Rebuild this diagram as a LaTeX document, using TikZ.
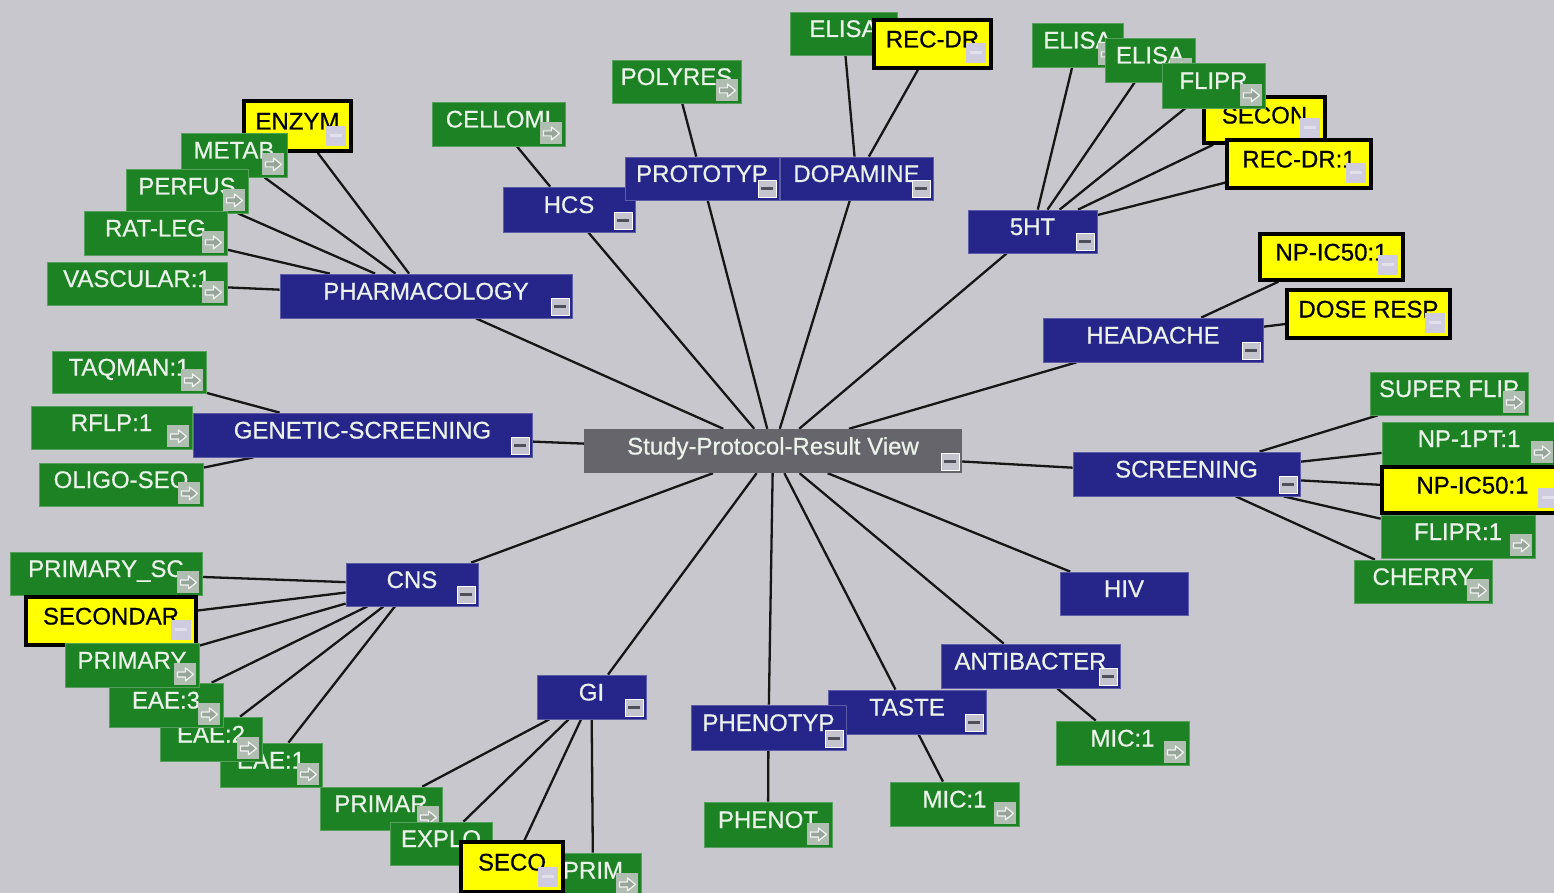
\documentclass[tikz,border=0pt]{standalone}
\usepackage{fontspec}
\setmainfont{Liberation Sans}
\newfontfamily\labelfont{Liberation Sans}[FakeBold=0.6]
\usetikzlibrary{calc}
\pgfdeclarelayer{bg}
\pgfdeclarelayer{edges}
\pgfsetlayers{bg,edges,main}

\definecolor{canvas}{RGB}{200,199,205}
\definecolor{navyfill}{RGB}{38,38,138}
\definecolor{leaffill}{RGB}{28,130,36}
\definecolor{markfill}{RGB}{255,255,0}
\definecolor{hubfill}{RGB}{102,101,107}
\definecolor{lighttext}{RGB}{234,242,234}
\definecolor{linkcol}{RGB}{22,22,22}
\definecolor{iconbase}{RGB}{176,190,178}
\definecolor{iconmid}{RGB}{150,165,152}
\definecolor{minusbase}{RGB}{196,196,206}
\definecolor{minusbar}{RGB}{80,80,92}
\definecolor{markicon}{RGB}{206,204,222}

\tikzset{
  box/.style={rectangle, inner sep=0pt, text height=17pt, text depth=10pt,
    font=\labelfont\fontsize{24}{28}\selectfont},
  bluebox/.style={box, fill=navyfill, draw=navyfill!75!white, line width=0.8pt, text=lighttext},
  greenbox/.style={box, fill=leaffill, draw=leaffill!75!white, line width=0.8pt, text=lighttext},
  yellowbox/.style={box, fill=markfill, draw=black, line width=3.5pt, text=black},
  hubbox/.style={box, fill=hubfill, text=lighttext},
  link/.style={draw=linkcol, line width=2.3pt},
  arrowicon/.pic={
    \fill[iconbase] (-25,-24) rectangle (-3,-2);
    \draw[white!90!gray, line width=1.2pt, fill=iconmid, line join=round]
      (-22,-15.5) -- (-14,-15.5) -- (-14,-19.5) -- (-6,-13) -- (-14,-6.5)
      -- (-14,-10.5) -- (-22,-10.5) -- cycle;
  },
  minusicon/.pic={
    \fill[minusbase] (-21,-20) rectangle (-3,-3);
    \draw[white, line width=1pt] (-21,-20) rectangle (-3,-3);
    \fill[minusbar] (-18,-13) rectangle (-6,-10);
  },
  flagicon/.pic={
    \fill[markicon] (-27,-27) rectangle (-7,-7);
    \fill[markicon!60!white] (-23,-18.5) rectangle (-11,-15.5);
  }
}

% box by its pixel corners: style, name, x1, y1, x2, y2, text
\newcommand\bx[7]{%
  \node[#1, minimum width={#5-#3}, minimum height={#6-#4}] (#2)
    at ({(#3+#5)/2},{(#4+#6)/2}) {#7};}
\newcommand\leafbox[6]{\bx{greenbox}{#1}{#2}{#3}{#4}{#5}{#6}\pic at (#1.south east) {arrowicon};}
\newcommand\groupbox[6]{\bx{bluebox}{#1}{#2}{#3}{#4}{#5}{#6}\pic at (#1.south east) {minusicon};}
\newcommand\flagbox[6]{\bx{yellowbox}{#1}{#2}{#3}{#4}{#5}{#6}\pic at (#1.south east) {flagicon};}

\begin{document}
\begin{tikzpicture}[x=1pt,y=-1pt]
\useasboundingbox (0,0) rectangle (1554,893);
\begin{pgfonlayer}{bg}
  \fill[canvas] (0,0) rectangle (1554,893);
\end{pgfonlayer}

% root
\bx{hubbox}{hub}{584}{429}{962}{473}{Study-Protocol-Result View}
\pic at (hub.south east) {minusicon};

% pharmacology
\flagbox{enzym}{244}{101}{351}{151}{ENZYM}
\leafbox{metab}{181}{133}{287}{177}{METAB}
\leafbox{perfus}{126}{169}{248}{213}{PERFUS}
\leafbox{ratleg}{84}{211}{227}{255}{RAT-LEG}
\leafbox{vasc}{47}{262}{227}{305}{VASCULAR:1}
\groupbox{pharm}{280}{274}{572}{318}{PHARMACOLOGY}

% hcs, prototype, dopamine
\groupbox{hcs}{503}{187}{635}{232}{HCS}
\leafbox{cellomi}{432}{102}{565}{146}{CELLOMI}
\groupbox{dopa}{780}{157}{933}{200}{DOPAMINE}
\groupbox{proto}{625}{157}{779}{200}{PROTOTYP}
\leafbox{polyres}{612}{60}{741}{103}{POLYRES}
\leafbox{elisaA}{790}{12}{897}{55}{ELISA}
\flagbox{recdrA}{874}{20}{991}{68}{REC-DR}

% 5HT
\leafbox{elisaB}{1032}{23}{1123}{67}{ELISA}
\leafbox{elisaC}{1105}{38}{1195}{82}{ELISA}
\flagbox{secon}{1204}{97}{1325}{143}{SECON}
\leafbox{flipr}{1162}{63}{1265}{108}{FLIPR}
\flagbox{recdrB}{1227}{140}{1371}{188}{REC-DR:1}
\groupbox{fiveht}{968}{210}{1097}{253}{5HT}

% headache
\groupbox{head}{1043}{318}{1263}{362}{HEADACHE}
\flagbox{npicA}{1260}{234}{1403}{280}{NP-IC50:1}
\flagbox{dose}{1287}{290}{1450}{338}{DOSE RESP}

% screening
\groupbox{screen}{1073}{452}{1300}{496}{SCREENING}
\leafbox{superflip}{1370}{372}{1528}{415}{SUPER FLIP}
\leafbox{nponept}{1382}{422}{1556}{465}{NP-1PT:1}
\leafbox{fliprone}{1381}{515}{1535}{558}{FLIPR:1}
\leafbox{cherry}{1354}{560}{1492}{603}{CHERRY}
\flagbox{npicB}{1382}{467}{1563}{513}{NP-IC50:1}

% hiv
\bx{bluebox}{hiv}{1060}{572}{1188}{615}{HIV}

% antibacterial, taste, phenotype
\groupbox{anti}{941}{644}{1120}{688}{ANTIBACTER}
\leafbox{mica}{1056}{721}{1189}{765}{MIC:1}
\groupbox{taste}{828}{690}{986}{734}{TASTE}
\groupbox{phenotyp}{691}{705}{846}{750}{PHENOTYP}
\leafbox{micb}{890}{782}{1019}{826}{MIC:1}
\leafbox{phenot}{704}{802}{832}{847}{PHENOT}

% gi
\groupbox{gi}{537}{675}{646}{719}{GI}
\leafbox{primar}{320}{787}{442}{830}{PRIMAR}
\leafbox{explo}{390}{822}{492}{865}{EXPLO}
\leafbox{prim}{545}{853}{641}{897}{PRIM}
\flagbox{seco}{461}{842}{563}{892}{SECO}

% cns
\leafbox{primsc}{10}{552}{202}{595}{PRIMARY\_SC}
\flagbox{secondar}{26}{597}{196}{645}{SECONDAR}
\leafbox{eaeone}{220}{743}{322}{787}{EAE:1}
\leafbox{eaetwo}{160}{717}{262}{761}{EAE:2}
\leafbox{eaethree}{109}{683}{223}{727}{EAE:3}
\leafbox{primary}{65}{643}{199}{687}{PRIMARY}
\groupbox{cns}{346}{563}{478}{606}{CNS}

% genetic screening
\groupbox{gen}{193}{413}{532}{457}{GENETIC-SCREENING}
\leafbox{taqman}{52}{351}{206}{393}{TAQMAN:1}
\leafbox{rflp}{31}{406}{192}{449}{RFLP:1}
\leafbox{oligo}{39}{463}{203}{506}{OLIGO-SEQ}

% connectors, drawn under the boxes
\begin{pgfonlayer}{edges}
\foreach \a/\b in {hub/pharm, hub/hcs, hub/proto, hub/dopa, hub/fiveht, hub/head,
    hub/screen, hub/hiv, hub/anti, hub/taste, hub/phenotyp, hub/gi, hub/cns, hub/gen,
    pharm/enzym, pharm/metab, pharm/perfus, pharm/ratleg, pharm/vasc,
    hcs/cellomi, proto/polyres, dopa/elisaA, dopa/recdrA,
    fiveht/elisaB, fiveht/elisaC, fiveht/flipr, fiveht/secon, fiveht/recdrB,
    head/npicA, head/dose,
    screen/superflip, screen/nponept, screen/npicB, screen/fliprone, screen/cherry,
    anti/mica, taste/micb, phenotyp/phenot,
    gi/primar, gi/explo, gi/seco, gi/prim,
    cns/primsc, cns/secondar, cns/primary, cns/eaethree, cns/eaetwo, cns/eaeone,
    gen/taqman, gen/rflp, gen/oligo}
  \draw[link] (\a) -- (\b);
\end{pgfonlayer}
\end{tikzpicture}
\end{document}
